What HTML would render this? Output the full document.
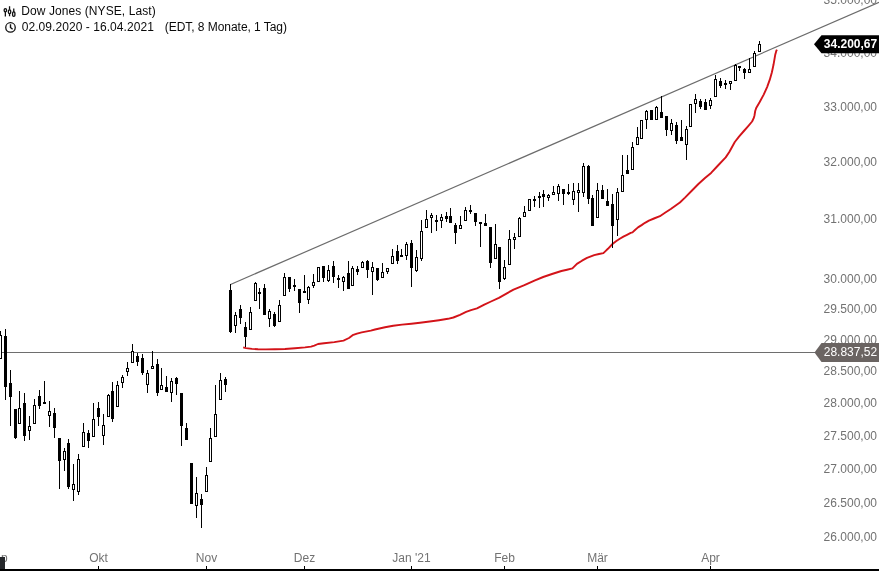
<!DOCTYPE html>
<html><head><meta charset="utf-8"><title>Dow Jones</title>
<style>
html,body{margin:0;padding:0;background:#fff;}
body{width:879px;height:571px;overflow:hidden;position:relative;font-family:"Liberation Sans",sans-serif;}
svg{position:absolute;left:0;top:0;display:block;will-change:transform;}
text{font-family:"Liberation Sans",sans-serif;font-size:12px;}
.ax{fill:#727272;}
.hd{fill:#0a0a0a;}
</style></head><body>
<svg width="879" height="571" viewBox="0 0 879 571">
<rect width="879" height="571" fill="#fff"/>
<g><text x="877" y="4.4" text-anchor="end" class="ax">35.000,00</text><text x="877" y="56.7" text-anchor="end" class="ax">34.000,00</text><text x="877" y="110.6" text-anchor="end" class="ax">33.000,00</text><text x="877" y="166.1" text-anchor="end" class="ax">32.000,00</text><text x="877" y="223.4" text-anchor="end" class="ax">31.000,00</text><text x="877" y="282.6" text-anchor="end" class="ax">30.000,00</text><text x="877" y="312.9" text-anchor="end" class="ax">29.500,00</text><text x="877" y="343.8" text-anchor="end" class="ax">29.000,00</text><text x="877" y="375.2" text-anchor="end" class="ax">28.500,00</text><text x="877" y="407.1" text-anchor="end" class="ax">28.000,00</text><text x="877" y="439.7" text-anchor="end" class="ax">27.500,00</text><text x="877" y="472.8" text-anchor="end" class="ax">27.000,00</text><text x="877" y="506.5" text-anchor="end" class="ax">26.500,00</text><text x="877" y="540.9" text-anchor="end" class="ax">26.000,00</text></g>
<g><text x="98.5" y="562" text-anchor="middle" class="ax">Okt</text><rect x="98" y="566" width="1" height="3" fill="#000"/><text x="206.5" y="562" text-anchor="middle" class="ax">Nov</text><rect x="206" y="566" width="1" height="3" fill="#000"/><text x="304.5" y="562" text-anchor="middle" class="ax">Dez</text><rect x="304" y="566" width="1" height="3" fill="#000"/><text x="411.5" y="562" text-anchor="middle" class="ax">Jan '21</text><rect x="411" y="566" width="1" height="3" fill="#000"/><text x="504.5" y="562" text-anchor="middle" class="ax">Feb</text><rect x="504" y="566" width="1" height="3" fill="#000"/><text x="597.5" y="562" text-anchor="middle" class="ax">Mär</text><rect x="597" y="566" width="1" height="3" fill="#000"/><text x="710.5" y="562" text-anchor="middle" class="ax">Apr</text><rect x="710" y="566" width="1" height="3" fill="#000"/></g>
<text x="7.6" y="562" text-anchor="end" class="ax">Sep</text>
<rect x="0" y="557" width="5" height="12" fill="#26282c"/>
<rect x="0" y="569" width="879" height="2" fill="#000"/>
<!-- trend lines -->
<line x1="0" y1="352.5" x2="815" y2="352.5" stroke="#6e6e6e" stroke-width="1"/>
<line x1="230.5" y1="284.5" x2="879" y2="2.3" stroke="#6c6c6c" stroke-width="1.2"/>
<polyline points="243.2,347.4 246.0,348.1 252.0,348.9 258.0,349.3 266.0,349.4 275.0,349.3 285.0,349.0 295.0,348.3 305.0,347.4 311.0,346.6 314.3,345.6 318.0,344.0 324.0,343.2 334.3,342.1 343.5,340.6 349.0,338.0 352.6,335.2 357.0,333.6 361.7,332.4 370.8,330.6 375.0,329.5 385.0,327.3 393.2,325.7 402.0,324.6 411.4,323.7 420.0,322.7 429.7,321.5 439.0,320.2 447.9,318.8 453.4,317.5 460.0,314.8 466.1,311.9 471.0,310.2 477.0,308.4 484.3,304.6 491.0,301.5 498.9,297.8 506.0,293.8 513.5,289.6 519.0,287.3 524.4,285.2 535.0,280.4 543.2,277.0 552.0,274.0 561.4,271.0 567.0,269.7 572.4,268.4 576.9,263.9 582.0,260.7 587.0,257.9 594.2,255.1 599.0,254.0 603.4,253.1 605.5,251.1 607.9,248.8 612.5,244.0 616.0,241.2 619.8,238.7 623.4,236.6 627.0,234.8 630.7,232.9 632.5,232.4 635.0,230.0 638.0,227.4 641.6,225.1 645.0,222.8 648.9,220.6 654.0,218.5 659.9,216.2 665.0,212.8 670.8,209.0 675.0,206.0 679.9,202.5 685.0,197.6 692.0,190.5 698.4,184.0 705.0,178.0 711.1,172.9 718.0,165.5 725.7,157.4 729.3,152.0 734.8,142.0 739.0,136.6 743.9,131.0 748.0,126.3 752.1,121.5 753.6,118.4 754.5,115.4 755.2,111.0 756.2,108.0 759.7,102.0 763.7,94.6 767.1,87.1 769.8,79.7 771.9,72.2 773.5,64.8 775.3,54.4 776.2,51.2 776.9,49.6" fill="none" stroke="#d31319" stroke-width="1.9" stroke-linejoin="round" stroke-linecap="butt"/>
<g fill="#000" shape-rendering="crispEdges"><rect x="0" y="331" width="1" height="28"/><rect x="-1" y="335" width="3" height="24"/><rect x="0" y="336" width="1" height="22" fill="#fff"/><rect x="5" y="329" width="1" height="71"/><rect x="4" y="336" width="3" height="51"/><rect x="10" y="370" width="1" height="56"/><rect x="9" y="383" width="3" height="14"/><rect x="15" y="409" width="1" height="30"/><rect x="14" y="409" width="3" height="29"/><rect x="19" y="391" width="1" height="33"/><rect x="18" y="408" width="3" height="16"/><rect x="19" y="409" width="1" height="14" fill="#fff"/><rect x="24" y="393" width="1" height="48"/><rect x="23" y="403" width="3" height="33"/><rect x="29" y="416" width="1" height="24"/><rect x="28" y="426" width="3" height="5"/><rect x="29" y="427" width="1" height="3" fill="#fff"/><rect x="34" y="399" width="1" height="25"/><rect x="33" y="405" width="3" height="19"/><rect x="34" y="406" width="1" height="17" fill="#fff"/><rect x="39" y="390" width="1" height="19"/><rect x="38" y="396" width="3" height="10"/><rect x="44" y="381" width="1" height="23"/><rect x="43" y="402" width="3" height="2"/><rect x="49" y="401" width="1" height="26"/><rect x="48" y="411" width="3" height="5"/><rect x="49" y="412" width="1" height="3" fill="#fff"/><rect x="54" y="408" width="1" height="30"/><rect x="53" y="413" width="3" height="15"/><rect x="59" y="438" width="1" height="51"/><rect x="58" y="438" width="3" height="23"/><rect x="64" y="448" width="1" height="23"/><rect x="63" y="451" width="3" height="9"/><rect x="64" y="452" width="1" height="7" fill="#fff"/><rect x="68" y="439" width="1" height="50"/><rect x="67" y="443" width="3" height="44"/><rect x="73" y="464" width="1" height="37"/><rect x="72" y="484" width="3" height="6"/><rect x="73" y="485" width="1" height="4" fill="#fff"/><rect x="78" y="454" width="1" height="41"/><rect x="77" y="459" width="3" height="33"/><rect x="78" y="460" width="1" height="31" fill="#fff"/><rect x="83" y="423" width="1" height="24"/><rect x="82" y="432" width="3" height="15"/><rect x="83" y="433" width="1" height="13" fill="#fff"/><rect x="88" y="430" width="1" height="18"/><rect x="87" y="433" width="3" height="8"/><rect x="93" y="403" width="1" height="34"/><rect x="92" y="419" width="3" height="18"/><rect x="93" y="420" width="1" height="16" fill="#fff"/><rect x="98" y="402" width="1" height="24"/><rect x="97" y="408" width="3" height="9"/><rect x="103" y="414" width="1" height="31"/><rect x="102" y="425" width="3" height="11"/><rect x="103" y="426" width="1" height="9" fill="#fff"/><rect x="108" y="394" width="1" height="23"/><rect x="107" y="395" width="3" height="22"/><rect x="108" y="396" width="1" height="20" fill="#fff"/><rect x="112" y="382" width="1" height="40"/><rect x="111" y="391" width="3" height="28"/><rect x="117" y="381" width="1" height="26"/><rect x="116" y="385" width="3" height="22"/><rect x="117" y="386" width="1" height="20" fill="#fff"/><rect x="122" y="375" width="1" height="13"/><rect x="121" y="377" width="3" height="6"/><rect x="122" y="378" width="1" height="4" fill="#fff"/><rect x="127" y="362" width="1" height="14"/><rect x="126" y="368" width="3" height="4"/><rect x="127" y="369" width="1" height="2" fill="#fff"/><rect x="132" y="344" width="1" height="19"/><rect x="131" y="351" width="3" height="12"/><rect x="132" y="352" width="1" height="10" fill="#fff"/><rect x="137" y="353" width="1" height="13"/><rect x="136" y="356" width="3" height="6"/><rect x="142" y="354" width="1" height="21"/><rect x="141" y="358" width="3" height="15"/><rect x="147" y="370" width="1" height="23"/><rect x="146" y="373" width="3" height="12"/><rect x="147" y="374" width="1" height="10" fill="#fff"/><rect x="152" y="351" width="1" height="18"/><rect x="151" y="366" width="3" height="3"/><rect x="152" y="367" width="1" height="1" fill="#fff"/><rect x="157" y="359" width="1" height="37"/><rect x="156" y="364" width="3" height="29"/><rect x="161" y="368" width="1" height="22"/><rect x="160" y="385" width="3" height="5"/><rect x="161" y="386" width="1" height="3" fill="#fff"/><rect x="166" y="376" width="1" height="16"/><rect x="165" y="387" width="3" height="5"/><rect x="171" y="378" width="1" height="24"/><rect x="170" y="381" width="3" height="12"/><rect x="171" y="382" width="1" height="10" fill="#fff"/><rect x="176" y="377" width="1" height="18"/><rect x="175" y="378" width="3" height="6"/><rect x="181" y="393" width="1" height="53"/><rect x="180" y="393" width="3" height="33"/><rect x="186" y="423" width="1" height="17"/><rect x="185" y="428" width="3" height="12"/><rect x="191" y="463" width="1" height="41"/><rect x="190" y="463" width="3" height="41"/><rect x="196" y="477" width="1" height="41"/><rect x="195" y="493" width="3" height="13"/><rect x="196" y="494" width="1" height="11" fill="#fff"/><rect x="201" y="494" width="1" height="34"/><rect x="200" y="499" width="3" height="6"/><rect x="206" y="467" width="1" height="25"/><rect x="205" y="475" width="3" height="17"/><rect x="206" y="476" width="1" height="15" fill="#fff"/><rect x="210" y="428" width="1" height="34"/><rect x="209" y="438" width="3" height="24"/><rect x="210" y="439" width="1" height="22" fill="#fff"/><rect x="215" y="385" width="1" height="52"/><rect x="214" y="414" width="3" height="23"/><rect x="215" y="415" width="1" height="21" fill="#fff"/><rect x="220" y="373" width="1" height="27"/><rect x="219" y="380" width="3" height="20"/><rect x="220" y="381" width="1" height="18" fill="#fff"/><rect x="225" y="377" width="1" height="15"/><rect x="224" y="379" width="3" height="6"/><rect x="230" y="284" width="1" height="49"/><rect x="229" y="290" width="3" height="42"/><rect x="235" y="312" width="1" height="21"/><rect x="234" y="315" width="3" height="11"/><rect x="235" y="316" width="1" height="9" fill="#fff"/><rect x="240" y="305" width="1" height="19"/><rect x="239" y="309" width="3" height="9"/><rect x="245" y="322" width="1" height="25"/><rect x="244" y="327" width="3" height="10"/><rect x="250" y="307" width="1" height="23"/><rect x="249" y="312" width="3" height="18"/><rect x="250" y="313" width="1" height="16" fill="#fff"/><rect x="255" y="282" width="1" height="19"/><rect x="254" y="283" width="3" height="18"/><rect x="255" y="284" width="1" height="16" fill="#fff"/><rect x="259" y="288" width="1" height="21"/><rect x="258" y="292" width="3" height="2"/><rect x="264" y="284" width="1" height="31"/><rect x="263" y="288" width="3" height="27"/><rect x="269" y="309" width="1" height="18"/><rect x="268" y="311" width="3" height="8"/><rect x="269" y="312" width="1" height="6" fill="#fff"/><rect x="274" y="312" width="1" height="15"/><rect x="273" y="314" width="3" height="12"/><rect x="279" y="300" width="1" height="22"/><rect x="278" y="305" width="3" height="17"/><rect x="279" y="306" width="1" height="15" fill="#fff"/><rect x="284" y="273" width="1" height="23"/><rect x="283" y="277" width="3" height="19"/><rect x="284" y="278" width="1" height="17" fill="#fff"/><rect x="289" y="277" width="1" height="15"/><rect x="288" y="277" width="3" height="12"/><rect x="294" y="279" width="1" height="12"/><rect x="293" y="285" width="3" height="2"/><rect x="299" y="289" width="1" height="24"/><rect x="298" y="289" width="3" height="14"/><rect x="304" y="275" width="1" height="18"/><rect x="303" y="291" width="3" height="2"/><rect x="308" y="286" width="1" height="18"/><rect x="307" y="287" width="3" height="13"/><rect x="308" y="288" width="1" height="11" fill="#fff"/><rect x="313" y="274" width="1" height="14"/><rect x="312" y="282" width="3" height="4"/><rect x="313" y="283" width="1" height="2" fill="#fff"/><rect x="318" y="267" width="1" height="15"/><rect x="317" y="267" width="3" height="15"/><rect x="318" y="268" width="1" height="13" fill="#fff"/><rect x="323" y="266" width="1" height="16"/><rect x="322" y="266" width="3" height="12"/><rect x="328" y="265" width="1" height="17"/><rect x="327" y="270" width="3" height="11"/><rect x="328" y="271" width="1" height="9" fill="#fff"/><rect x="333" y="261" width="1" height="22"/><rect x="332" y="266" width="3" height="11"/><rect x="338" y="275" width="1" height="13"/><rect x="337" y="278" width="3" height="2"/><rect x="343" y="276" width="1" height="15"/><rect x="342" y="277" width="3" height="5"/><rect x="343" y="278" width="1" height="3" fill="#fff"/><rect x="348" y="261" width="1" height="28"/><rect x="347" y="273" width="3" height="16"/><rect x="352" y="266" width="1" height="20"/><rect x="351" y="268" width="3" height="18"/><rect x="352" y="269" width="1" height="16" fill="#fff"/><rect x="357" y="266" width="1" height="9"/><rect x="356" y="269" width="3" height="3"/><rect x="362" y="261" width="1" height="7"/><rect x="361" y="262" width="3" height="6"/><rect x="362" y="263" width="1" height="4" fill="#fff"/><rect x="367" y="260" width="1" height="18"/><rect x="366" y="261" width="3" height="9"/><rect x="372" y="262" width="1" height="33"/><rect x="371" y="267" width="3" height="5"/><rect x="372" y="268" width="1" height="3" fill="#fff"/><rect x="377" y="268" width="1" height="13"/><rect x="376" y="268" width="3" height="12"/><rect x="382" y="263" width="1" height="15"/><rect x="381" y="272" width="3" height="6"/><rect x="382" y="273" width="1" height="4" fill="#fff"/><rect x="387" y="268" width="1" height="6"/><rect x="386" y="268" width="3" height="4"/><rect x="387" y="269" width="1" height="2" fill="#fff"/><rect x="392" y="249" width="1" height="15"/><rect x="391" y="256" width="3" height="8"/><rect x="392" y="257" width="1" height="6" fill="#fff"/><rect x="397" y="245" width="1" height="19"/><rect x="396" y="251" width="3" height="10"/><rect x="401" y="249" width="1" height="8"/><rect x="400" y="255" width="3" height="2"/><rect x="406" y="242" width="1" height="18"/><rect x="405" y="244" width="3" height="12"/><rect x="406" y="245" width="1" height="10" fill="#fff"/><rect x="411" y="240" width="1" height="47"/><rect x="410" y="243" width="3" height="25"/><rect x="416" y="250" width="1" height="22"/><rect x="415" y="257" width="3" height="14"/><rect x="416" y="258" width="1" height="12" fill="#fff"/><rect x="421" y="220" width="1" height="41"/><rect x="420" y="231" width="3" height="28"/><rect x="421" y="232" width="1" height="26" fill="#fff"/><rect x="426" y="210" width="1" height="18"/><rect x="425" y="219" width="3" height="9"/><rect x="426" y="220" width="1" height="7" fill="#fff"/><rect x="431" y="213" width="1" height="20"/><rect x="430" y="215" width="3" height="3"/><rect x="431" y="216" width="1" height="1" fill="#fff"/><rect x="436" y="215" width="1" height="16"/><rect x="435" y="220" width="3" height="2"/><rect x="441" y="214" width="1" height="14"/><rect x="440" y="217" width="3" height="4"/><rect x="441" y="218" width="1" height="2" fill="#fff"/><rect x="446" y="212" width="1" height="10"/><rect x="445" y="216" width="3" height="3"/><rect x="450" y="208" width="1" height="15"/><rect x="449" y="216" width="3" height="7"/><rect x="455" y="223" width="1" height="21"/><rect x="454" y="225" width="3" height="8"/><rect x="460" y="216" width="1" height="13"/><rect x="459" y="225" width="3" height="4"/><rect x="460" y="226" width="1" height="2" fill="#fff"/><rect x="465" y="207" width="1" height="14"/><rect x="464" y="210" width="3" height="11"/><rect x="465" y="211" width="1" height="9" fill="#fff"/><rect x="470" y="205" width="1" height="9"/><rect x="469" y="210" width="3" height="2"/><rect x="475" y="213" width="1" height="13"/><rect x="474" y="213" width="3" height="9"/><rect x="480" y="222" width="1" height="25"/><rect x="479" y="222" width="3" height="2"/><rect x="485" y="214" width="1" height="12"/><rect x="484" y="223" width="3" height="3"/><rect x="490" y="227" width="1" height="41"/><rect x="489" y="227" width="3" height="36"/><rect x="495" y="224" width="1" height="35"/><rect x="494" y="244" width="3" height="15"/><rect x="495" y="245" width="1" height="13" fill="#fff"/><rect x="499" y="247" width="1" height="42"/><rect x="498" y="247" width="3" height="35"/><rect x="504" y="260" width="1" height="20"/><rect x="503" y="267" width="3" height="12"/><rect x="504" y="268" width="1" height="10" fill="#fff"/><rect x="509" y="230" width="1" height="35"/><rect x="508" y="239" width="3" height="26"/><rect x="509" y="240" width="1" height="24" fill="#fff"/><rect x="514" y="233" width="1" height="16"/><rect x="513" y="237" width="3" height="3"/><rect x="514" y="238" width="1" height="1" fill="#fff"/><rect x="519" y="217" width="1" height="20"/><rect x="518" y="218" width="3" height="19"/><rect x="519" y="219" width="1" height="17" fill="#fff"/><rect x="524" y="206" width="1" height="11"/><rect x="523" y="212" width="3" height="5"/><rect x="524" y="213" width="1" height="3" fill="#fff"/><rect x="529" y="199" width="1" height="12"/><rect x="528" y="199" width="3" height="12"/><rect x="529" y="200" width="1" height="10" fill="#fff"/><rect x="534" y="196" width="1" height="11"/><rect x="533" y="199" width="3" height="2"/><rect x="539" y="192" width="1" height="16"/><rect x="538" y="196" width="3" height="2"/><rect x="543" y="190" width="1" height="17"/><rect x="542" y="194" width="3" height="3"/><rect x="548" y="194" width="1" height="7"/><rect x="547" y="195" width="3" height="3"/><rect x="548" y="196" width="1" height="1" fill="#fff"/><rect x="553" y="186" width="1" height="9"/><rect x="552" y="192" width="3" height="3"/><rect x="553" y="193" width="1" height="1" fill="#fff"/><rect x="558" y="184" width="1" height="17"/><rect x="557" y="186" width="3" height="8"/><rect x="558" y="187" width="1" height="6" fill="#fff"/><rect x="563" y="189" width="1" height="16"/><rect x="562" y="189" width="3" height="5"/><rect x="568" y="184" width="1" height="11"/><rect x="567" y="192" width="3" height="2"/><rect x="573" y="183" width="1" height="22"/><rect x="572" y="191" width="3" height="9"/><rect x="573" y="192" width="1" height="7" fill="#fff"/><rect x="578" y="183" width="1" height="29"/><rect x="577" y="190" width="3" height="3"/><rect x="578" y="191" width="1" height="1" fill="#fff"/><rect x="583" y="163" width="1" height="34"/><rect x="582" y="166" width="3" height="27"/><rect x="583" y="167" width="1" height="25" fill="#fff"/><rect x="588" y="165" width="1" height="39"/><rect x="587" y="166" width="3" height="33"/><rect x="592" y="195" width="1" height="31"/><rect x="591" y="198" width="3" height="28"/><rect x="597" y="183" width="1" height="35"/><rect x="596" y="190" width="3" height="28"/><rect x="597" y="191" width="1" height="26" fill="#fff"/><rect x="602" y="185" width="1" height="14"/><rect x="601" y="190" width="3" height="9"/><rect x="607" y="189" width="1" height="17"/><rect x="606" y="201" width="3" height="5"/><rect x="612" y="194" width="1" height="54"/><rect x="611" y="204" width="3" height="22"/><rect x="617" y="188" width="1" height="48"/><rect x="616" y="192" width="3" height="28"/><rect x="617" y="193" width="1" height="26" fill="#fff"/><rect x="622" y="155" width="1" height="37"/><rect x="621" y="175" width="3" height="17"/><rect x="622" y="176" width="1" height="15" fill="#fff"/><rect x="627" y="155" width="1" height="19"/><rect x="626" y="170" width="3" height="4"/><rect x="632" y="142" width="1" height="28"/><rect x="631" y="147" width="3" height="23"/><rect x="632" y="148" width="1" height="21" fill="#fff"/><rect x="637" y="127" width="1" height="18"/><rect x="636" y="137" width="3" height="8"/><rect x="637" y="138" width="1" height="6" fill="#fff"/><rect x="641" y="120" width="1" height="19"/><rect x="640" y="120" width="3" height="19"/><rect x="641" y="121" width="1" height="17" fill="#fff"/><rect x="646" y="110" width="1" height="19"/><rect x="645" y="111" width="3" height="9"/><rect x="646" y="112" width="1" height="7" fill="#fff"/><rect x="651" y="110" width="1" height="10"/><rect x="650" y="110" width="3" height="10"/><rect x="656" y="106" width="1" height="14"/><rect x="655" y="107" width="3" height="13"/><rect x="656" y="108" width="1" height="11" fill="#fff"/><rect x="661" y="96" width="1" height="22"/><rect x="660" y="112" width="3" height="6"/><rect x="666" y="116" width="1" height="20"/><rect x="665" y="116" width="3" height="14"/><rect x="671" y="119" width="1" height="16"/><rect x="670" y="123" width="3" height="8"/><rect x="671" y="124" width="1" height="6" fill="#fff"/><rect x="676" y="122" width="1" height="22"/><rect x="675" y="125" width="3" height="16"/><rect x="681" y="120" width="1" height="21"/><rect x="680" y="137" width="3" height="4"/><rect x="686" y="126" width="1" height="34"/><rect x="685" y="129" width="3" height="16"/><rect x="686" y="130" width="1" height="14" fill="#fff"/><rect x="690" y="104" width="1" height="23"/><rect x="689" y="104" width="3" height="23"/><rect x="690" y="105" width="1" height="21" fill="#fff"/><rect x="695" y="94" width="1" height="19"/><rect x="694" y="99" width="3" height="5"/><rect x="695" y="100" width="1" height="3" fill="#fff"/><rect x="700" y="99" width="1" height="10"/><rect x="699" y="101" width="3" height="6"/><rect x="705" y="99" width="1" height="11"/><rect x="704" y="102" width="3" height="8"/><rect x="710" y="98" width="1" height="11"/><rect x="709" y="100" width="3" height="6"/><rect x="710" y="101" width="1" height="4" fill="#fff"/><rect x="715" y="75" width="1" height="22"/><rect x="714" y="79" width="3" height="18"/><rect x="715" y="80" width="1" height="16" fill="#fff"/><rect x="720" y="78" width="1" height="10"/><rect x="719" y="81" width="3" height="5"/><rect x="725" y="80" width="1" height="9"/><rect x="724" y="83" width="3" height="2"/><rect x="730" y="81" width="1" height="9"/><rect x="729" y="81" width="3" height="3"/><rect x="730" y="82" width="1" height="1" fill="#fff"/><rect x="735" y="64" width="1" height="17"/><rect x="734" y="65" width="3" height="16"/><rect x="735" y="66" width="1" height="14" fill="#fff"/><rect x="739" y="66" width="1" height="5"/><rect x="738" y="66" width="3" height="2"/><rect x="744" y="68" width="1" height="11"/><rect x="743" y="69" width="3" height="4"/><rect x="749" y="58" width="1" height="15"/><rect x="748" y="69" width="3" height="4"/><rect x="749" y="70" width="1" height="2" fill="#fff"/><rect x="754" y="51" width="1" height="16"/><rect x="753" y="53" width="3" height="14"/><rect x="754" y="54" width="1" height="12" fill="#fff"/><rect x="759" y="41" width="1" height="11"/><rect x="758" y="44" width="3" height="8"/><rect x="759" y="45" width="1" height="6" fill="#fff"/></g>
<!-- price tags -->
<path d="M814 44.2 L821.5 35.2 H879 V53.3 H821.5 Z" fill="#000"/>
<text x="877.2" y="48.3" text-anchor="end" fill="#fff" font-weight="bold">34.200,67</text>
<path d="M814.5 352.5 L821.5 343 H879 V362 H821.5 Z" fill="#6a6462"/>
<text x="877.1" y="355.8" text-anchor="end" fill="#fff">28.837,52</text>
<!-- header -->
<g fill="none" stroke="#111" stroke-width="1.3">
<rect x="4.2" y="8.6" width="2.3" height="3.2" rx="1.1"/><path d="M5.35 11.8V16.5"/>
<rect x="8.4" y="9.8" width="2.3" height="3.9" rx="1.1"/><path d="M9.55 6.3V9.8M9.55 13.7V16.2"/>
<rect x="12.6" y="11.9" width="2.3" height="4.4" rx="1.1"/><path d="M13.75 8.4V11.9"/>
<circle cx="10.5" cy="27.45" r="4.75" stroke-width="1.3"/>
<path d="M10.5 24.2V27.5L12.6 29.2" stroke-width="1.4"/>
</g>
<g opacity="0.999"><text x="21.3" y="14.8" class="hd" textLength="134.4" lengthAdjust="spacing">Dow Jones (NYSE, Last)</text>
<text x="21.7" y="30.8" class="hd" textLength="132.2" lengthAdjust="spacing">02.09.2020 - 16.04.2021</text>
<text x="164.8" y="30.8" class="hd" textLength="122.2" lengthAdjust="spacing">(EDT, 8 Monate, 1 Tag)</text></g>
</svg>
</body></html>
